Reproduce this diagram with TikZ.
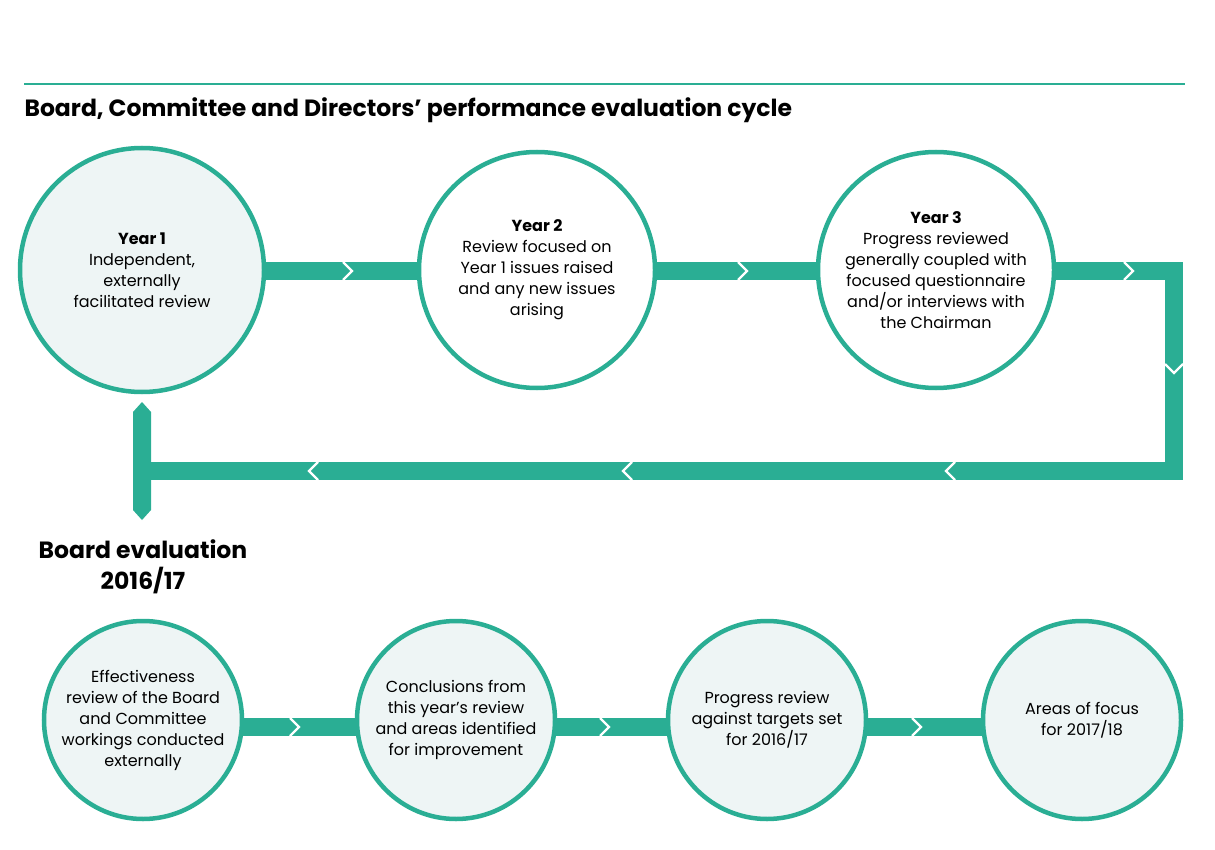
\documentclass[tikz,border=0pt]{standalone}
\usepackage{fontspec}
\setmainfont{Poppins}
\definecolor{teal}{HTML}{2AAE94}
\definecolor{pale}{HTML}{EEF5F5}
\begin{document}
\begin{tikzpicture}[x=1pt,y=-1pt,
  bar/.style={draw=none,fill=teal},
  chev/.style={white,line width=2.2pt,line join=miter},
  circ/.style={circle,draw=teal,line width=4.5pt,inner sep=0pt,align=center,font=\fontsize{16}{21}\selectfont},
  ttl/.style={font=\fontsize{23.5}{31}\selectfont\bfseries,align=center}]
\useasboundingbox (0,0) rectangle (1215,850);
\draw[teal,line width=1.2pt] (24,84) -- (1185,84);
\node[ttl,anchor=west] (title) at (21,110) {Board, Committee and Directors’ performance evaluation cycle};
% top cycle bars
\fill[bar] (142,262) rectangle (1183,280);
\fill[bar] (1165,262) rectangle (1183,480);
\fill[bar] (142,462) rectangle (1183,480);
\fill[bar] (133,412) -- (142,402) -- (151,412) -- (151,510) -- (142,520) -- (133,510) -- cycle;
\foreach \x in {343,738,1124} \draw[chev] (\x,262) -- (\x+9,271) -- (\x,280);
\draw[chev] (1165,364) -- (1174,373) -- (1183,364);
\foreach \x in {318,632,955} \draw[chev] (\x,462) -- (\x-9,471) -- (\x,480);
\node[circ,fill=pale,minimum size=244pt] (y1) at (142,270) {\textbf{Year 1}\\Independent,\\externally\\facilitated review};
\node[circ,fill=white,minimum size=236pt] (y2) at (537,270) {\textbf{Year 2}\\Review focused on\\Year 1 issues raised\\and any new issues\\arising};
\node[circ,fill=white,minimum size=236pt] (y3) at (936,270) {\textbf{Year 3}\\Progress reviewed\\generally coupled with\\focused questionnaire\\and/or interviews with\\the Chairman};
\node[ttl] (be) at (143,567) {Board evaluation\\2016/17};
% bottom row
\fill[bar] (143,718) rectangle (1082,736);
\foreach \x in {290,600,912} \draw[chev] (\x,718) -- (\x+9,727) -- (\x,736);
\node[circ,fill=pale,minimum size=198pt] (b1) at (143,720) {Effectiveness\\review of the Board\\and Committee\\workings conducted\\externally};
\node[circ,fill=pale,minimum size=198pt] (b2) at (456,720) {Conclusions from\\this year’s review\\and areas identified\\for improvement};
\node[circ,fill=pale,minimum size=198pt] (b3) at (767,720) {Progress review\\against targets set\\for 2016/17};
\node[circ,fill=pale,minimum size=198pt] (b4) at (1082,720) {Areas of focus\\for 2017/18};
\end{tikzpicture}
\end{document}
